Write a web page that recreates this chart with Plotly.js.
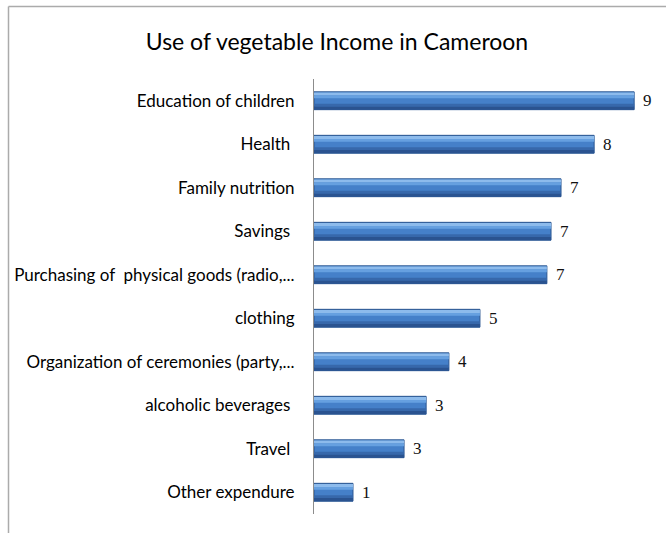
<!DOCTYPE html>
<html>
<head>
<meta charset="utf-8">
<script src="https://cdn.plot.ly/plotly-3.0.1.min.js"></script>
<style>html,body{margin:0;padding:0;background:#fff;}#chart{width:666px;height:533px;}</style>
</head>
<body>
<div id="chart"></div>
<script>
var categories = ["Education of children", "Health ", "Family nutrition", "Savings ", "Purchasing of  physical goods (radio,...", "clothing", "Organization of ceremonies (party,...", "alcoholic beverages ", "Travel ", "Other expendure"];
var values = [9.28, 8.12, 7.16, 6.87, 6.75, 4.81, 3.91, 3.25, 2.61, 1.13];
var valueLabels = ["9", "8", "7", "7", "7", "5", "4", "3", "3", "1"];

var L = 314, R = 7, T = 79, B = 19, W = 666 - L - R, H = 533 - T - B;

var base = {
  type: 'bar', orientation: 'h', y: categories, x: values,
  width: 0.41, offset: -0.205,
  marker: {color: '#4580c9', line: {color: '#2a5590', width: 1}},
  hoverinfo: 'skip', showlegend: false
};
var hi = {
  type: 'bar', orientation: 'h', y: categories, x: values,
  width: 0.07, offset: -0.19,
  marker: {color: '#8dbbec', line: {width: 0}},
  hoverinfo: 'skip', showlegend: false
};
var hi2 = {
  type: 'bar', orientation: 'h', y: categories, x: values,
  width: 0.06, offset: -0.12,
  marker: {color: '#66a0e0', line: {width: 0}},
  hoverinfo: 'skip', showlegend: false
};
var lo = {
  type: 'bar', orientation: 'h', y: categories, x: values,
  width: 0.06, offset: 0.07,
  marker: {color: '#3768ab', line: {width: 0}},
  hoverinfo: 'skip', showlegend: false
};
var lo2 = {
  type: 'bar', orientation: 'h', y: categories, x: values,
  width: 0.075, offset: 0.13,
  marker: {color: '#2a5390', line: {width: 0}},
  hoverinfo: 'skip', showlegend: false
};

var annotations = categories.map(function (c, i) {
  return {
    x: values[i], y: c, xref: 'x', yref: 'y', text: valueLabels[i],
    showarrow: false, xanchor: 'left', xshift: 7,
    font: {family: 'Liberation Serif, serif', size: 17, color: '#111'}
  };
});

var bx = (8.5 - L) / W, by = 1 + (T - 6.5) / H;
var shapes = [
  {type: 'line', xref: 'paper', yref: 'paper', x0: bx, x1: bx, y0: -0.2, y1: by, line: {color: '#ababab', width: 1.5}},
  {type: 'line', xref: 'paper', yref: 'paper', x0: bx, x1: 1.2, y0: by, y1: by, line: {color: '#ababab', width: 1.5}}
];

var layout = {
  width: 666, height: 533,
  margin: {l: L, r: R, t: T, b: B, pad: 0},
  paper_bgcolor: '#fff', plot_bgcolor: '#fff',
  barmode: 'overlay',
  title: {
    text: 'Use of vegetable Income in Cameroon',
    font: {family: 'Lato, sans-serif', size: 23, color: '#000'},
    x: 0.506, xref: 'container', xanchor: 'center',
    y: 1 - 42 / 533, yref: 'container', yanchor: 'middle'
  },
  xaxis: {range: [0, 10], showgrid: false, zeroline: false, showticklabels: false, ticks: '', showline: false, fixedrange: true},
  yaxis: {
    type: 'category', autorange: 'reversed', showgrid: false, zeroline: false,
    showline: true, linecolor: '#8c8c8c', linewidth: 1,
    ticks: '', ticklabelstandoff: 15,
    tickfont: {family: 'Lato, sans-serif', size: 17, color: '#000'}
  },
  annotations: annotations,
  shapes: shapes,
  font: {family: 'Lato, sans-serif'}
};

Plotly.newPlot('chart', [base, hi, hi2, lo, lo2], layout, {displayModeBar: false, staticPlot: true});
</script>
</body>
</html>
